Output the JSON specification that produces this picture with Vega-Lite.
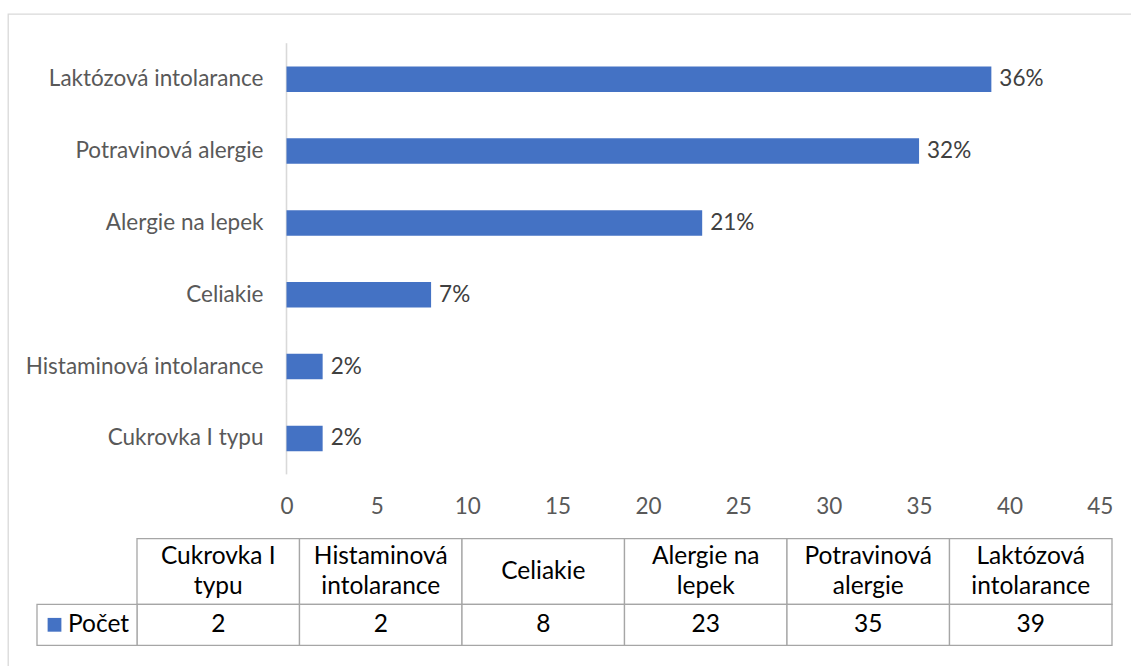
{
  "$schema": "https://vega.github.io/schema/vega-lite/v6.json",
  "width": 1125,
  "height": 660,
  "autosize": {"type": "none"},
  "padding": {"left": 8, "top": 14, "right": 0, "bottom": 0},
  "background": "white",
  "config": {
    "font": "Lato",
    "view": {"stroke": "#D9D9D9", "strokeWidth": 1.3}
  },
  "datasets": {
    "rows": [
      {"kategorie": "Cukrovka I typu", "hlavicka": ["Cukrovka I", "typu"], "rada": "Počet", "pocet": 2, "podil": "2%"},
      {"kategorie": "Histaminová intolarance", "hlavicka": ["Histaminová", "intolarance"], "rada": "Počet", "pocet": 2, "podil": "2%"},
      {"kategorie": "Celiakie", "hlavicka": "Celiakie", "rada": "Počet", "pocet": 8, "podil": "7%"},
      {"kategorie": "Alergie na lepek", "hlavicka": ["Alergie na", "lepek"], "rada": "Počet", "pocet": 23, "podil": "21%"},
      {"kategorie": "Potravinová alergie", "hlavicka": ["Potravinová", "alergie"], "rada": "Počet", "pocet": 35, "podil": "32%"},
      {"kategorie": "Laktózová intolarance", "hlavicka": ["Laktózová", "intolarance"], "rada": "Počet", "pocet": 39, "podil": "36%"}
    ],
    "legenda": [{"rada": "Počet"}]
  },
  "data": {"name": "rows"},
  "layer": [
    {
      "encoding": {
        "y": {
          "field": "kategorie",
          "type": "nominal",
          "sort": ["Laktózová intolarance", "Potravinová alergie", "Alergie na lepek", "Celiakie", "Histaminová intolarance", "Cukrovka I typu"],
          "scale": {"range": [29.3, 460.3], "paddingInner": 0.645, "paddingOuter": 0.3225, "align": 0.5, "round": false},
          "axis": {
            "title": null, "domain": false, "ticks": false, "tickSize": 0, "grid": false,
            "labelPadding": 23.5, "offset": -278.5, "labelFontSize": 22.5, "labelColor": "#595959",
            "labelLimit": 400
          }
        },
        "x": {
          "field": "pocet",
          "type": "quantitative",
          "scale": {"domain": [0, 45], "range": [278.5, 1091.8], "nice": false, "zero": true},
          "axis": {
            "values": [0, 5, 10, 15, 20, 25, 30, 35, 40, 45],
            "title": null, "domain": false, "ticks": false, "tickSize": 0, "grid": false,
            "labelPadding": 0, "labelBaseline": "middle", "offset": -167.5,
            "labelFontSize": 22.5, "labelColor": "#595959", "labelFlush": false
          }
        }
      },
      "layer": [
        {
          "mark": {"type": "tick", "color": "#D9D9D9", "thickness": 1.6, "size": 72, "opacity": 1},
          "encoding": {"x": {"datum": 0, "type": "quantitative"}}
        },
        {
          "mark": {"type": "bar", "color": "#4472C4"}
        },
        {
          "mark": {"type": "text", "align": "left", "baseline": "middle", "dx": 8, "fontSize": 22.5, "color": "#404040"},
          "encoding": {"text": {"field": "podil"}}
        }
      ]
    },
    {
      "encoding": {
        "x": {
          "field": "kategorie",
          "type": "nominal",
          "sort": ["Cukrovka I typu", "Histaminová intolarance", "Celiakie", "Alergie na lepek", "Potravinová alergie", "Laktózová intolarance"],
          "scale": {"range": [129, 1104], "paddingInner": 0, "paddingOuter": 0, "round": false},
          "axis": null
        },
        "y": {
          "field": "rada",
          "type": "nominal",
          "scale": {"range": [524.7, 590.3], "paddingInner": 0, "paddingOuter": 0, "round": false},
          "axis": null
        }
      },
      "layer": [
        {"mark": {"type": "rect", "fill": "white", "stroke": "#A6A6A6", "strokeWidth": 1.3}},
        {
          "transform": [{"filter": "isArray(datum.hlavicka)"}],
          "mark": {"type": "text", "lineHeight": 30, "fontSize": 24.5, "color": "#000000", "align": "center", "baseline": "middle", "dy": -15},
          "encoding": {"text": {"field": "hlavicka"}}
        },
        {
          "transform": [{"filter": "!isArray(datum.hlavicka)"}],
          "mark": {"type": "text", "fontSize": 24.5, "color": "#000000", "align": "center", "baseline": "middle"},
          "encoding": {"text": {"field": "hlavicka"}}
        }
      ]
    },
    {
      "encoding": {
        "x": {
          "field": "kategorie",
          "type": "nominal",
          "sort": ["Cukrovka I typu", "Histaminová intolarance", "Celiakie", "Alergie na lepek", "Potravinová alergie", "Laktózová intolarance"],
          "scale": {"range": [129, 1104], "paddingInner": 0, "paddingOuter": 0, "round": false},
          "axis": null
        },
        "y": {
          "field": "rada",
          "type": "nominal",
          "scale": {"range": [590.3, 631.3], "paddingInner": 0, "paddingOuter": 0, "round": false},
          "axis": null
        }
      },
      "layer": [
        {"mark": {"type": "rect", "fill": "white", "stroke": "#A6A6A6", "strokeWidth": 1.3}},
        {
          "mark": {"type": "text", "fontSize": 24.5, "color": "#000000", "align": "center", "baseline": "middle"},
          "encoding": {"text": {"field": "pocet", "type": "quantitative"}}
        }
      ]
    },
    {
      "data": {"name": "legenda"},
      "encoding": {
        "x": {
          "field": "rada",
          "type": "nominal",
          "scale": {"range": [29, 129], "paddingInner": 0, "paddingOuter": 0, "round": false},
          "axis": null
        },
        "y": {
          "field": "rada",
          "type": "nominal",
          "scale": {"range": [590.3, 631.3], "paddingInner": 0, "paddingOuter": 0, "round": false},
          "axis": null
        }
      },
      "layer": [
        {"mark": {"type": "rect", "fill": "white", "stroke": "#A6A6A6", "strokeWidth": 1.3}},
        {"mark": {"type": "point", "shape": "square", "filled": true, "size": 190, "color": "#4472C4", "opacity": 1, "xOffset": -32.5}},
        {
          "mark": {"type": "text", "fontSize": 24.5, "color": "#000000", "align": "left", "baseline": "middle", "xOffset": -19},
          "encoding": {"text": {"field": "rada"}}
        }
      ]
    }
  ],
  "resolve": {"scale": {"x": "independent", "y": "independent"}}
}
